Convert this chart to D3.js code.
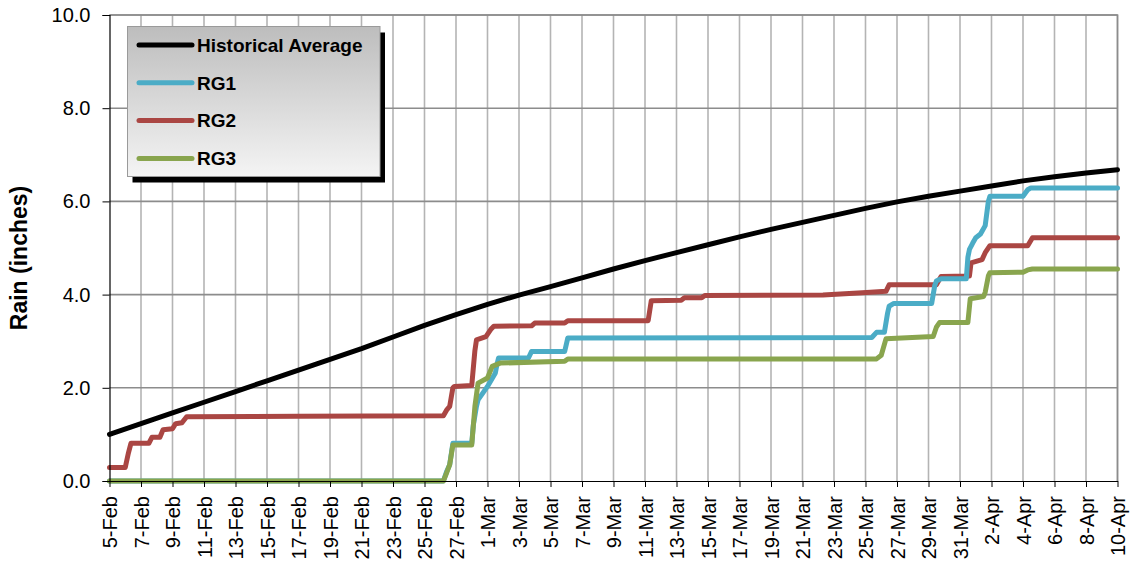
<!DOCTYPE html>
<html>
<head>
<meta charset="utf-8">
<script src="https://cdn.jsdelivr.net/npm/d3@7"></script>
<style>
  html, body { margin: 0; padding: 0; background: #fff; }
  svg { display: block; font-family: "Liberation Sans", Arial, sans-serif; }
</style>
</head>
<body>
<svg id="chart" width="1131" height="562"></svg>
<script>
// ---- DATA ----
const startDate = new Date(2009, 1, 5); // 5-Feb
const tickDays = d3.range(0, 65, 2);      // every 2 days, 5-Feb .. 10-Apr
const yTicks = [0, 2, 4, 6, 8, 10];
const seriesNames = ["Historical Average", "RG1", "RG2", "RG3"];
const seriesColors = ["#000000", "#4BACC6", "#AA4643", "#89A54E"];

// [day offset from 5-Feb, cumulative inches]
const historical = [[0,1.00],[2,1.23],[4,1.46],[6,1.69],[8,1.92],[10,2.15],[12,2.38],[14,2.61],[16,2.84],[18,3.09],
  [20,3.34],[22,3.57],[24,3.79],[26,3.99],[28,4.17],[30,4.36],[32,4.55],[34,4.73],[36,4.90],[38,5.07],[40,5.24],
  [42,5.40],[44,5.55],[46,5.70],[48,5.85],[50,5.99],[52,6.11],[54,6.22],[56,6.33],[58,6.44],[60,6.53],[62,6.61],[64,6.68]];

const rg1 = [[0,0],[21.2,0],[21.4,0.2],[21.6,0.35],[21.8,0.81],[23.0,0.81],[23.1,1.2],[23.3,1.6],[23.4,1.74],
  [24.0,2.03],[24.5,2.32],[24.6,2.5],[24.7,2.64],[26.6,2.64],[26.8,2.78],[28.9,2.78],[29.1,3.07],[48.4,3.08],
  [48.7,3.19],[49.2,3.19],[49.4,3.6],[49.5,3.75],[49.8,3.81],[52.2,3.81],[52.4,4.2],[52.5,4.29],[52.8,4.34],[54.4,4.34],
  [54.5,4.8],[54.6,4.97],[54.8,5.1],[55.0,5.22],[55.3,5.3],[55.4,5.36],[55.6,5.48],[55.8,6.0],[55.9,6.11],
  [58.0,6.11],[58.3,6.25],[58.5,6.29],[64,6.29]];

const rg2 = [[0,0.29],[1.0,0.29],[1.2,0.6],[1.36,0.81],[2.5,0.81],[2.7,0.94],[3.2,0.94],[3.4,1.10],[4.0,1.12],
  [4.2,1.23],[4.6,1.25],[4.9,1.38],[12,1.39],[21.2,1.40],[21.4,1.52],[21.6,1.60],[21.8,2.0],[21.9,2.03],[23.0,2.05],
  [23.2,2.8],[23.3,3.03],[23.9,3.10],[24.2,3.25],[24.4,3.32],[26.8,3.33],[27.0,3.39],[28.9,3.39],[29.1,3.44],
  [34.2,3.44],[34.4,3.87],[36.3,3.88],[36.5,3.93],[37.6,3.93],[37.8,3.98],[45.3,3.99],[47.8,4.04],[49.3,4.07],
  [49.5,4.21],[52.5,4.21],[52.8,4.39],[54.6,4.40],[54.7,4.68],[55.4,4.75],[55.6,4.90],[55.9,5.05],[58.3,5.05],
  [58.6,5.22],[64,5.22]];

const rg3 = [[0,0],[21.2,0],[21.4,0.17],[21.6,0.35],[21.8,0.77],[23.0,0.77],[23.2,1.6],[23.4,2.10],[24.0,2.21],
  [24.3,2.46],[24.8,2.53],[28.9,2.57],[29.1,2.62],[48.7,2.62],[49.0,2.70],[49.3,3.05],[52.3,3.10],[52.5,3.30],
  [52.7,3.40],[54.5,3.40],[54.65,3.91],[55.5,3.96],[55.6,4.05],[55.8,4.40],[55.9,4.47],[58.0,4.48],[58.3,4.53],
  [58.6,4.55],[64,4.55]];

const seriesData = [historical, rg1, rg2, rg3];

// ---- LAYOUT ----
const svg = d3.select("#chart");
const L = 109.5, R = 1117.5, T = 15, B = 481;

const x = d3.scaleLinear().domain([0, 64]).range([L, R]);
const y = d3.scaleLinear().domain([0, 10]).range([B, T]);
const fmtDate = d3.timeFormat("%-d-%b");
const dayLabel = d => fmtDate(d3.timeDay.offset(startDate, d));

// plot background
svg.append("rect").attr("x", L).attr("y", T).attr("width", R - L).attr("height", B - T).attr("fill", "#fff");

// vertical gridlines
svg.append("g").selectAll("line").data(tickDays.slice(1)).join("line")
  .attr("x1", d => x(d)).attr("x2", d => x(d)).attr("y1", T).attr("y2", B)
  .attr("stroke", "#b4b4b4").attr("stroke-width", 1.6);

// horizontal gridlines
svg.append("g").selectAll("line").data(yTicks.slice(1)).join("line")
  .attr("x1", L).attr("x2", R).attr("y1", d => y(d)).attr("y2", d => y(d))
  .attr("stroke", "#8c8c8c").attr("stroke-width", 1.6);

// plot border (top/right)
svg.append("path").attr("d", `M${L},${T}H${R}V${B}`).attr("fill", "none")
  .attr("stroke", "#8c8c8c").attr("stroke-width", 1.6);

// series
const line = d3.line().x(d => x(d[0])).y(d => y(d[1]));
const order = [0, 2, 1, 3];
svg.append("g").selectAll("path").data(order).join("path")
  .attr("d", i => line(seriesData[i]))
  .attr("fill", "none")
  .attr("stroke", i => seriesColors[i])
  .attr("stroke-width", i => i === 0 ? 5 : 5)
  .attr("stroke-linejoin", "round")
  .attr("stroke-linecap", "round");

// Y axis
const yAxis = d3.axisLeft(y).tickValues(yTicks).tickFormat(d3.format(".1f")).tickSize(7).tickPadding(12);
const gy = svg.append("g").attr("transform", `translate(${L},0)`).call(yAxis);
gy.select(".domain").attr("stroke", "#000").attr("stroke-width", 1.2);
gy.selectAll(".tick line").attr("stroke", "#000");
gy.selectAll(".tick text").attr("font-size", 20).attr("fill", "#000")
  .attr("font-family", "'Liberation Sans', Arial, sans-serif");

// X axis
const xAxis = d3.axisBottom(x).tickValues(tickDays).tickFormat(dayLabel).tickSize(6).tickSizeOuter(0);
const gx = svg.append("g").attr("transform", `translate(0,${B})`).call(xAxis);
gx.select(".domain").attr("stroke", "#000").attr("stroke-width", 1.2);
gx.selectAll(".tick line").attr("stroke", "#000");
gx.selectAll(".tick text")
  .attr("font-size", 20).attr("fill", "#000")
  .attr("font-family", "'Liberation Sans', Arial, sans-serif")
  .attr("text-anchor", "end")
  .attr("transform", "rotate(-90)")
  .attr("x", -15).attr("y", 0).attr("dy", "0.35em");

// Y title
svg.append("text")
  .attr("transform", "translate(27,258) rotate(-90)")
  .attr("text-anchor", "middle")
  .attr("font-size", 23).attr("font-weight", "bold")
  .text("Rain (inches)");

// Legend
const defs = svg.append("defs");
const grad = defs.append("linearGradient").attr("id", "lg").attr("x1", 0).attr("y1", 0).attr("x2", 0).attr("y2", 1);
grad.append("stop").attr("offset", "0%").attr("stop-color", "#bdbdbd");
grad.append("stop").attr("offset", "100%").attr("stop-color", "#f4f4f4");

const lx = 127.5, ly = 26.5, lw = 252.5, lh = 150;
svg.append("rect").attr("x", lx + 5).attr("y", ly + 6).attr("width", lw).attr("height", lh).attr("fill", "#000");
svg.append("rect").attr("x", lx).attr("y", ly).attr("width", lw).attr("height", lh)
  .attr("fill", "url(#lg)").attr("stroke", "#9a9a9a").attr("stroke-width", 1);

const lg = svg.append("g").selectAll("g").data(seriesNames).join("g")
  .attr("transform", (d, i) => `translate(0,${45 + i * 37.8})`);
lg.append("line").attr("x1", 139).attr("x2", 192).attr("y1", 0).attr("y2", 0)
  .attr("stroke", (d, i) => seriesColors[i]).attr("stroke-width", 5).attr("stroke-linecap", "round");
lg.append("text").attr("x", 197).attr("y", 0).attr("dy", "0.36em")
  .attr("font-size", 19).attr("font-weight", "bold").attr("fill", "#000")
  .text(d => d);
</script>
</body>
</html>
